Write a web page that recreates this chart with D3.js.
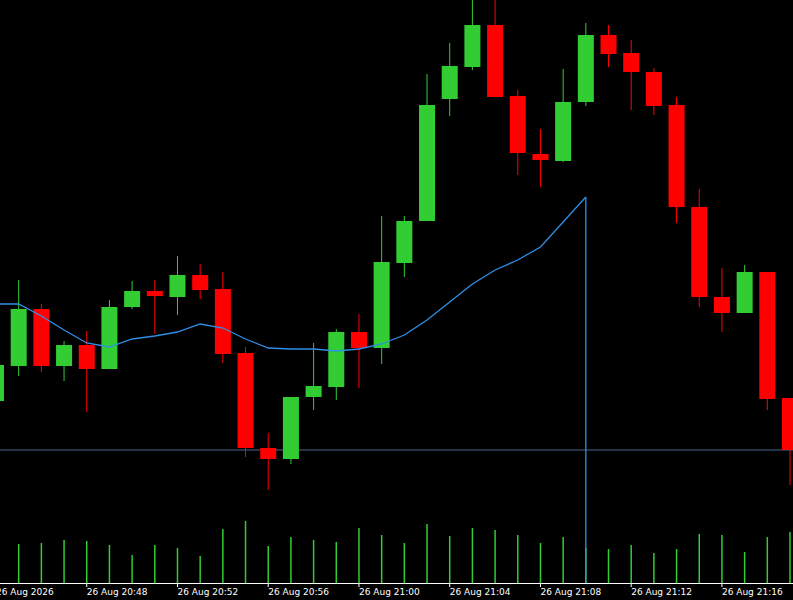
<!DOCTYPE html>
<html>
<head>
<meta charset="utf-8">
<script src="https://cdn.jsdelivr.net/npm/d3@7"></script>
<style>
  body { margin: 0; background: #000; }
</style>
</head>
<body>
<div id="chart"></div>
<script>
// candles, one per minute from 20:44
const open  = [199,234,291,234,255,231,293,309,303,325,311,247,152,141,203,213,268,252,337,379,501,533,575,504,446,439,498,565,547,528,495,393,303,287,328,202];
const high  = [240,320,296,259,269,300,319,320,344,336,328,253,167,203,257,271,286,384,384,526,557,600,600,510,471,531,577,575,560,532,503,411,332,335,328,202];
const low   = [195,224,228,219,188,231,291,266,285,301,237,143,110,136,190,200,212,236,323,379,484,530,503,425,413,438,494,533,490,485,377,293,268,287,190,115];
const close = [235,291,234,255,231,293,309,304,325,310,246,152,141,203,214,268,252,338,379,495,534,575,503,447,440,498,565,546,528,494,393,303,287,328,201,150];
const volume = [0,39,40,43,42,38,28,38,35,27,54,62,37,46,43,41,55,48,40,59,47,55,53,48,40,46,35,34,38,30,34,49,48,31,46,51];
const ma = [296,296,284,270,257,253,261,264,268,276,272,261,252,251,251,249,251,256,265,280,298,316,330,340,353,378,403];
const tickIdx = [0,4,8,12,16,20,24,28,32];
const tickLabels = ["26 Aug 2026","26 Aug 20:48","26 Aug 20:52","26 Aug 20:56","26 Aug 21:00","26 Aug 21:04","26 Aug 21:08","26 Aug 21:12","26 Aug 21:16"];
const hLevel = 150;
const cursorIdx = 26;

const width = 793, height = 600;
const axisY = 583;

const svg = d3.select("#chart").append("svg")
  .attr("width", width).attr("height", height)
  .style("background", "#000");

const x = d3.scaleLinear().domain([0, 35]).range([-4, 790]);
const y = d3.scaleLinear().domain([0, 600]).range([600, 0]);
const v = d3.scaleLinear().domain([0, 100]).range([axisY, axisY - 100]);

svg.append("clipPath").attr("id", "clip")
  .append("rect").attr("x", 0).attr("y", 0).attr("width", width).attr("height", axisY);

const plot = svg.append("g").attr("clip-path", "url(#clip)");

// volume
plot.append("g").selectAll("line")
  .data(volume)
  .join("line")
    .attr("x1", (d, i) => x(i)).attr("x2", (d, i) => x(i))
    .attr("y1", axisY).attr("y2", d => v(d))
    .attr("stroke", "#32cd32").attr("stroke-width", 1.5);

// horizontal level
plot.append("line")
  .attr("x1", 0).attr("x2", width)
  .attr("y1", y(hLevel)).attr("y2", y(hLevel))
  .attr("stroke", "#4a6a8a").attr("stroke-width", 1);

const candles = d3.range(open.length).map(i => ({ i, o: open[i], h: high[i], l: low[i], c: close[i] }));
const col = d => d.c >= d.o ? "#32cd32" : "#ff0000";

const cg = plot.append("g").selectAll("g").data(candles).join("g");
cg.append("line")
  .attr("x1", d => x(d.i)).attr("x2", d => x(d.i))
  .attr("y1", d => y(d.h)).attr("y2", d => y(d.l))
  .attr("stroke", col).attr("stroke-width", 1);
cg.append("rect")
  .attr("x", d => x(d.i) - 8).attr("width", 16)
  .attr("y", d => y(Math.max(d.o, d.c)))
  .attr("height", d => Math.max(2, Math.abs(y(d.o) - y(d.c))))
  .attr("fill", col);

// moving average
plot.append("path")
  .datum(ma)
  .attr("fill", "none").attr("stroke", "#2f8fe6").attr("stroke-width", 1.3)
  .attr("d", d3.line().x((d, i) => x(i)).y(d => y(d)));

// cursor line
plot.append("line")
  .attr("x1", x(cursorIdx)).attr("x2", x(cursorIdx))
  .attr("y1", y(ma[cursorIdx])).attr("y2", axisY)
  .attr("stroke", "#2f8fe6").attr("stroke-width", 1.3);

// x axis
const ax = svg.append("g");
ax.append("line").attr("x1", 0).attr("x2", width).attr("y1", axisY + 0.5).attr("y2", axisY + 0.5)
  .attr("stroke", "#fff");
ax.selectAll("line.t").data(tickIdx).join("line").attr("class", "t")
  .attr("x1", d => x(d)).attr("x2", d => x(d))
  .attr("y1", axisY).attr("y2", axisY + 4).attr("stroke", "#fff");
ax.selectAll("text").data(tickIdx).join("text")
  .attr("x", d => x(d)).attr("y", 595)
  .attr("fill", "#fff").attr("font-family", "DejaVu Sans").attr("font-size", "9px")
  .text((d, i) => tickLabels[i]);
</script>
</body>
</html>
